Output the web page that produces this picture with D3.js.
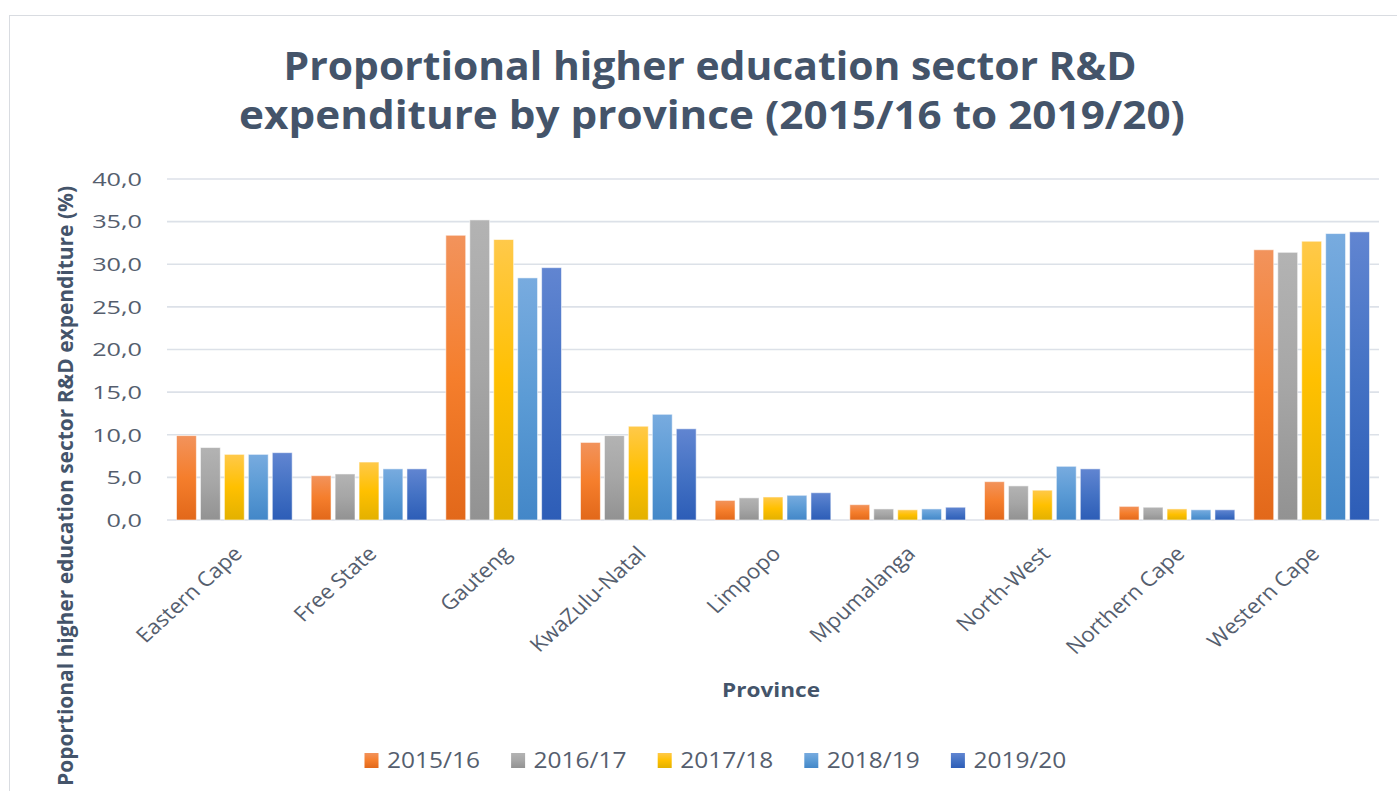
<!DOCTYPE html>
<html>
<head>
<meta charset="utf-8">
<script src="https://cdn.jsdelivr.net/npm/d3@7"></script>
<style>
  html, body { margin: 0; padding: 0; background: #fff; }
  svg { display: block; font-family: "Open Sans", "Noto Sans", sans-serif; }
</style>
</head>
<body>
<svg id="chart" width="1397" height="791"></svg>
<script>
// ---- Data ----
const categories = ["Eastern Cape", "Free State", "Gauteng", "KwaZulu-Natal", "Limpopo",
                    "Mpumalanga", "North-West", "Northern Cape", "Western Cape"];
const seriesNames = ["2015/16", "2016/17", "2017/18", "2018/19", "2019/20"];
const v2015_16 = [9.9, 5.2, 33.4, 9.1, 2.3, 1.8, 4.5, 1.6, 31.7];
const v2016_17 = [8.5, 5.4, 35.2, 9.9, 2.6, 1.3, 4.0, 1.5, 31.4];
const v2017_18 = [7.7, 6.8, 32.9, 11.0, 2.7, 1.2, 3.5, 1.3, 32.7];
const v2018_19 = [7.7, 6.0, 28.4, 12.4, 2.9, 1.3, 6.3, 1.2, 33.6];
const v2019_20 = [7.9, 6.0, 29.6, 10.7, 3.2, 1.5, 6.0, 1.2, 33.8];
const yTickValues = [0, 5, 10, 15, 20, 25, 30, 35, 40];
const titleLines = ["Proportional higher education sector R&D", "expenditure by province (2015/16 to 2019/20)"];
const yAxisTitle = "Poportional higher education sector R&D expenditure (%)";
const xAxisTitle = "Province";

const seriesValues = [v2015_16, v2016_17, v2017_18, v2018_19, v2019_20];

// ---- Styles ----
const gradStops = [
  ["#F2935C", "#F57E2C", "#E2681A"],
  ["#B3B3B3", "#A6A6A6", "#929292"],
  ["#FFC94A", "#FFC000", "#E3B100"],
  ["#78ABDF", "#5B9BD5", "#4387C8"],
  ["#6185D1", "#4472C4", "#2D5DB7"]
];
const textColor = "#44546A";
const tickColor = "#555E6E";
const gridColor = "#DCE1E8";

const svg = d3.select("#chart");
const defs = svg.append("defs");
gradStops.forEach((s, i) => {
  const g = defs.append("linearGradient").attr("id", "g" + i)
    .attr("x1", 0).attr("y1", 0).attr("x2", 0).attr("y2", 1);
  g.append("stop").attr("offset", "0%").attr("stop-color", s[0]);
  g.append("stop").attr("offset", "50%").attr("stop-color", s[1]);
  g.append("stop").attr("offset", "100%").attr("stop-color", s[2]);
});

// chart border
svg.append("rect").attr("x", 9.5).attr("y", 15.5).attr("width", 1400).attr("height", 800)
  .attr("fill", "#fff").attr("stroke", "#D9DCE1").attr("stroke-width", 1);

// helper: stretch text horizontally to a target width
function fitWidth(sel, target) {
  sel.each(function () {
    const w = this.getComputedTextLength();
    const t = d3.select(this);
    const x = +t.attr("data-x"), y = +t.attr("data-y");
    t.attr("transform", `translate(${x},${y}) scale(${target / w},1)`);
  });
}

// ---- Scales ----
const plotL = 167, plotR = 1379, plotT = 179, plotB = 520;
const x0 = d3.scaleBand().domain(categories).range([plotL, plotR]).padding(0);
const x1 = d3.scaleBand().domain(seriesNames).range([9.5, x0.bandwidth() - 9.5]).paddingInner(0.17);
const y = d3.scaleLinear().domain([0, 40]).range([plotB, plotT]);

// gridlines
svg.append("g").selectAll("line").data(yTickValues).join("line")
  .attr("x1", plotL).attr("x2", plotR)
  .attr("y1", d => y(d)).attr("y2", d => y(d))
  .attr("stroke", gridColor).attr("stroke-width", 1.6);

// y-axis tick labels
const fmt = d => d.toFixed(1).replace(".", ",");
svg.append("g").selectAll("text").data(yTickValues).join("text")
  .attr("text-anchor", "end").attr("dy", "0.36em")
  .attr("font-size", 19).attr("fill", tickColor)
  .attr("transform", d => `translate(142,${y(d)}) scale(1.33,1)`)
  .text(fmt);

// bars
const groups = svg.append("g").selectAll("g").data(categories).join("g")
  .attr("transform", d => `translate(${x0(d)},0)`);
groups.selectAll("rect")
  .data((c, ci) => seriesNames.map((s, si) => ({ s, si, v: seriesValues[si][ci] })))
  .join("rect")
  .attr("x", d => x1(d.s))
  .attr("width", x1.bandwidth())
  .attr("y", d => y(d.v))
  .attr("height", d => y(0) - y(d.v))
  .attr("fill", d => `url(#g${d.si})`)
  .attr("stroke", "rgba(255,255,255,0.55)").attr("stroke-width", 1);

// x-axis category labels (rotated)
svg.append("g").selectAll("text").data(categories).join("text")
  .attr("text-anchor", "end")
  .attr("font-size", 20.5).attr("fill", tickColor)
  .attr("transform", d => `translate(${x0(d) + x0.bandwidth() / 2 + 9},555) scale(1.1,1) rotate(-45)`)
  .text(d => d);

// title
const titleWidths = [853, 946];
const titleY = [80, 129];
const titleX = [710, 712];
titleLines.forEach((t, i) => {
  svg.append("text").attr("text-anchor", "middle")
    .attr("data-x", titleX[i]).attr("data-y", titleY[i])
    .attr("font-size", 39).attr("font-weight", 700).attr("fill", textColor)
    .text(t).call(fitWidth, titleWidths[i]);
});

// y-axis title
svg.append("text").attr("text-anchor", "middle")
  .attr("font-size", 17).attr("font-weight", 700).attr("fill", textColor)
  .attr("textLength", 600).attr("lengthAdjust", "spacingAndGlyphs")
  .attr("transform", "translate(73,486) scale(1.22,1) rotate(-90)")
  .text(yAxisTitle);

// x-axis title
svg.append("text").attr("text-anchor", "middle")
  .attr("data-x", 771).attr("data-y", 697)
  .attr("font-size", 20).attr("font-weight", 700).attr("fill", textColor)
  .text(xAxisTitle).call(fitWidth, 98);

// legend
const legStart = 364.5, legStep = 146.6;
const leg = svg.append("g").selectAll("g").data(seriesNames).join("g")
  .attr("transform", (d, i) => `translate(${legStart + i * legStep},0)`);
leg.append("rect").attr("x", 0).attr("y", 753).attr("width", 14).attr("height", 15)
  .attr("fill", (d, i) => `url(#g${i})`);
leg.append("text").attr("data-x", 22.5).attr("data-y", 768)
  .attr("font-size", 22).attr("fill", tickColor)
  .text(d => d).call(fitWidth, 93);
</script>
</body>
</html>
